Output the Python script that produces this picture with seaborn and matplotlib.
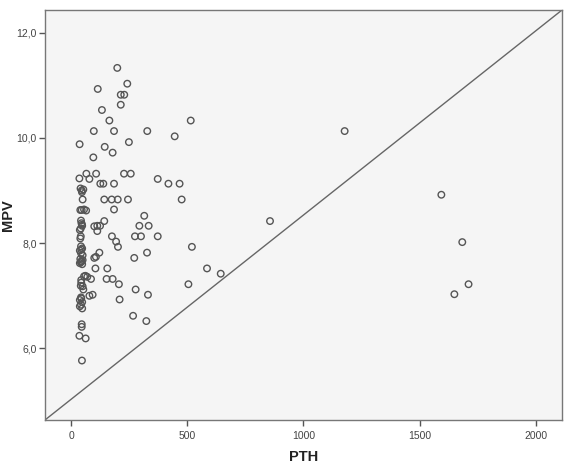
import matplotlib
matplotlib.use('Agg')
import matplotlib.pyplot as plt
import seaborn as sns
import pandas as pd

# PTH / MPV values
pth = [199, 242, 115, 214, 229, 214, 133, 165, 515, 98, 185, 328, 1177, 446,
       37, 249, 145, 179, 96, 36, 66, 108, 228, 257, 79, 373, 419, 467, 126,
       139, 185, 41, 47, 53, 50, 143, 175, 201, 245, 476, 40, 56, 65, 185,
       315, 143, 856, 1593, 294, 334, 113, 125, 100, 43, 45, 48, 42, 38, 113,
       176, 275, 301, 373, 42, 40, 194, 202, 520, 1683, 43, 48, 38, 43, 50,
       122, 327, 100, 272, 40, 45, 50, 38, 48, 42, 107, 105, 156, 585, 644,
       56, 62, 70, 44, 50, 86, 153, 179, 206, 505, 1710, 42, 53, 278, 331,
       93, 1649, 79, 209, 43, 38, 48, 43, 38, 48, 267, 324, 46, 46, 36, 63,
       47, 45, 47, 44, 46, 44, 44, 46]
mpv = [11.33, 11.03, 10.93, 10.82, 10.82, 10.63, 10.53, 10.33, 10.33, 10.13,
       10.13, 10.13, 10.13, 10.03, 9.88, 9.92, 9.83, 9.72, 9.63, 9.23, 9.32,
       9.32, 9.32, 9.32, 9.22, 9.22, 9.13, 9.13, 9.13, 9.13, 9.13, 9.04, 8.97,
       9.02, 8.83, 8.83, 8.83, 8.83, 8.83, 8.83, 8.63, 8.64, 8.62, 8.64, 8.52,
       8.42, 8.42, 8.92, 8.33, 8.33, 8.33, 8.33, 8.32, 8.43, 8.38, 8.33, 8.28,
       8.25, 8.23, 8.13, 8.13, 8.13, 8.13, 8.13, 8.09, 8.03, 7.93, 7.93, 8.02,
       7.94, 7.90, 7.86, 7.81, 7.77, 7.82, 7.82, 7.72, 7.72, 7.70, 7.66, 7.68,
       7.62, 7.60, 7.64, 7.74, 7.52, 7.52, 7.52, 7.42, 7.37, 7.38, 7.36, 7.25,
       7.18, 7.32, 7.32, 7.32, 7.22, 7.22, 7.22, 7.19, 7.12, 7.12, 7.02, 7.02,
       7.03, 7.00, 6.93, 6.97, 6.92, 6.88, 6.83, 6.80, 6.76, 6.62, 6.52, 6.46,
       6.41, 6.24, 6.19, 5.77, 7.65, 8.35, 7.88, 8.63, 6.95, 7.30, 9.00]

xticks = [0, 500, 1000, 1500, 2000]
yticks = [6, 8, 10, 12]
ytick_labels = ['6,0', '8,0', '10,0', '12,0']

df = pd.DataFrame({'PTH': pth, 'MPV': mpv})

sns.set_style('white')
plt.rcParams['font.family'] = ['Liberation Sans', 'DejaVu Sans']

fig = plt.figure(figsize=(5.65, 4.66), dpi=100)
ax = fig.add_axes([0.0796, 0.0987, 0.9151, 0.8798])
ax.set_facecolor('#f5f5f5')

sns.scatterplot(data=df, x='PTH', y='MPV', ax=ax, marker='o', s=22,
                facecolors='none', edgecolor='#555555', linewidth=1,
                zorder=3)

# reference line, corner to corner
ax.plot([0, 1], [0, 1], transform=ax.transAxes, color='#666666', lw=1,
        zorder=2)

ax.set_xlim(-112, 2112)
ax.set_ylim(4.64, 12.43)
ax.set_xticks(xticks)
ax.set_xticklabels([str(t) for t in xticks])
ax.set_yticks(yticks)
ax.set_yticklabels(ytick_labels)
ax.tick_params(axis='both', direction='out', length=4, width=1,
               color='#555555', labelsize=7.5, labelcolor='#444444', pad=2)
ax.tick_params(axis='x', bottom=True, pad=4)
ax.tick_params(axis='y', left=True)

for sp in ax.spines.values():
    sp.set_visible(True)
    sp.set_color('#777777')
    sp.set_linewidth(1)

ax.set_xlabel('PTH', fontsize=10.5, fontweight='bold', color='#222222')
ax.set_ylabel('MPV', fontsize=10.5, fontweight='bold', color='#222222')
ax.xaxis.set_label_coords(0.5, -0.072)
ax.yaxis.set_label_coords(-0.058, 0.5)

fig.savefig('out.png', dpi=100)
